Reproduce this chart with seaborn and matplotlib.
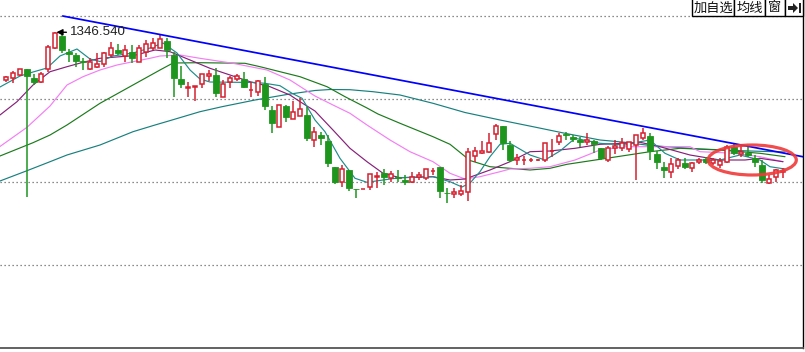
import numpy as np
import pandas as pd
import matplotlib
matplotlib.use("Agg")
import matplotlib.pyplot as plt
import seaborn as sns
from matplotlib.patches import Ellipse, Rectangle, Polygon

# 日K线数据 (开, 高, 低, 收)
opens = [1298.8, 1300.5, 1303.8, 1310.1, 1300.5, 1297.1, 1309.5, 1331.1, 1342.8, 1327.1,
         1323.8, 1317.8, 1309.8, 1311.5, 1314.5, 1323.8, 1328.8, 1323.1, 1327.1, 1317.1,
         1327.1, 1330.5, 1331.1, 1337.8, 1323.8, 1299.8, 1291.1, 1291.5, 1294.5, 1303.1,
         1303.8, 1282.1, 1296.5, 1299.5, 1299.8, 1288.8, 1287.1, 1294.5, 1268.8, 1252.1,
         1273.1, 1259.5, 1263.1, 1263.8, 1238.8, 1243.8, 1237.8, 1212.1, 1197.1, 1208.8,
         1189.6, 1189.4, 1192.1, 1202.1, 1205.5, 1201.1, 1202.1, 1198.5, 1197.1, 1202.1,
         1201.1, 1207.8, 1211.5, 1185.7, 1184.5, 1184.8, 1187.1, 1223.1, 1225.5, 1226.5,
         1244.5, 1252.8, 1233.8, 1218.8, 1218.5, 1218.5, 1218.5, 1218.8, 1227.8, 1236.5,
         1244.0, 1242.1, 1238.8, 1236.5, 1237.8, 1231.1, 1218.8, 1231.1, 1230.5, 1229.8,
         1233.8, 1241.1, 1242.8, 1224.5, 1211.8, 1206.5, 1213.1, 1215.5, 1210.5, 1216.8,
         1219.8, 1215.8, 1213.8, 1217.1, 1232.1, 1224.5, 1225.8, 1221.1, 1213.8, 1195.5,
         1202.1, 1207.1]
highs = [1303.1, 1308.1, 1310.3, 1310.1, 1304.8, 1307.1, 1333.8, 1346.54, 1345.3, 1329.8,
         1325.5, 1320.5, 1320.5, 1325.5, 1327.1, 1337.1, 1334.8, 1333.8, 1333.8, 1333.8,
         1338.8, 1340.5, 1343.8, 1340.5, 1327.1, 1313.1, 1296.5, 1292.5, 1304.5, 1308.8,
         1310.5, 1298.8, 1303.1, 1304.5, 1306.5, 1297.1, 1298.8, 1301.5, 1272.8, 1273.8,
         1273.8, 1277.8, 1280.5, 1272.1, 1252.1, 1246.5, 1243.8, 1212.1, 1213.8, 1208.8,
         1189.6, 1189.6, 1204.5, 1207.1, 1209.8, 1207.8, 1208.8, 1203.8, 1207.1, 1207.1,
         1209.8, 1211.1, 1211.5, 1190.5, 1190.5, 1193.8, 1231.1, 1231.8, 1237.8, 1245.5,
         1254.5, 1252.8, 1237.8, 1224.5, 1223.1, 1220.5, 1219.5, 1235.5, 1239.5, 1245.5,
         1246.5, 1243.8, 1242.1, 1245.5, 1238.8, 1231.1, 1233.1, 1238.8, 1240.5, 1237.1,
         1243.8, 1250.5, 1245.5, 1227.8, 1217.1, 1221.1, 1221.1, 1221.1, 1216.5, 1220.8,
         1221.8, 1220.8, 1220.8, 1233.8, 1235.8, 1232.8, 1232.1, 1223.8, 1218.8, 1203.8,
         1209.8, 1210.8]
lows = [1296.5, 1295.5, 1302.8, 1182.1, 1293.8, 1295.5, 1307.1, 1329.8, 1325.5, 1316.5,
        1312.1, 1308.8, 1308.8, 1310.5, 1312.1, 1322.1, 1323.8, 1317.1, 1315.5, 1316.5,
        1322.1, 1328.8, 1330.5, 1320.5, 1282.1, 1291.1, 1282.1, 1277.8, 1291.1, 1297.8,
        1282.1, 1282.1, 1291.1, 1297.8, 1291.1, 1282.1, 1283.1, 1268.8, 1245.5, 1252.1,
        1257.1, 1259.5, 1263.1, 1238.1, 1232.1, 1233.8, 1212.1, 1194.5, 1192.1, 1188.1,
        1180.5, 1189.4, 1188.8, 1191.1, 1193.8, 1197.1, 1197.1, 1193.8, 1195.5, 1198.8,
        1198.8, 1203.8, 1181.1, 1175.5, 1180.5, 1183.1, 1177.8, 1216.5, 1224.5, 1225.5,
        1238.8, 1228.8, 1216.5, 1213.8, 1213.8, 1216.8, 1217.5, 1216.5, 1222.1, 1233.8,
        1238.8, 1237.1, 1232.1, 1233.8, 1225.5, 1218.8, 1216.5, 1224.5, 1227.8, 1227.1,
        1198.8, 1238.8, 1218.8, 1209.8, 1201.1, 1201.1, 1209.8, 1209.8, 1206.5, 1214.8,
        1214.8, 1213.8, 1210.8, 1215.8, 1223.8, 1221.8, 1222.1, 1211.8, 1195.8, 1194.8,
        1196.8, 1200.8]
closes = [1301.5, 1306.1, 1309.5, 1302.8, 1296.5, 1304.8, 1332.1, 1345.8, 1328.8, 1324.5,
          1318.1, 1317.1, 1317.1, 1314.8, 1325.5, 1331.1, 1326.1, 1328.8, 1320.5, 1330.5,
          1334.8, 1335.5, 1339.8, 1328.8, 1301.1, 1294.8, 1291.3, 1292.5, 1304.5, 1304.5,
          1286.1, 1294.5, 1300.5, 1302.8, 1292.1, 1289.0, 1298.1, 1273.1, 1256.1, 1273.8,
          1262.1, 1266.5, 1269.5, 1241.1, 1247.1, 1240.5, 1215.5, 1197.1, 1209.8, 1191.1,
          1189.5, 1189.6, 1204.5, 1202.3, 1202.1, 1204.5, 1201.1, 1197.1, 1202.1, 1203.8,
          1209.8, 1208.0, 1188.1, 1185.5, 1187.1, 1188.1, 1226.5, 1227.8, 1227.8, 1235.5,
          1252.8, 1235.5, 1218.8, 1221.1, 1218.7, 1218.7, 1218.7, 1235.5, 1228.0, 1242.8,
          1243.8, 1239.8, 1237.1, 1238.8, 1234.5, 1221.1, 1231.1, 1233.1, 1235.5, 1236.5,
          1243.8, 1245.5, 1227.8, 1216.5, 1208.5, 1214.5, 1219.1, 1212.1, 1215.5, 1218.8,
          1216.8, 1218.8, 1217.8, 1232.1, 1225.5, 1227.1, 1223.8, 1217.1, 1198.8, 1199.8,
          1208.8, 1207.3]

# 均线 (按K线序号读点)
ma5_idx = [-0.86, 2.0, 3.86, 5.86, 7.71, 10.14, 12.0, 13.43, 15.29, 18.14, 20.57, 22.43, 24.43,
           26.29, 27.71, 29.14, 35.57, 37.0, 39.14, 40.86, 42.29, 44.14, 45.57, 47.71, 49.86,
           51.57, 53.86, 56.29, 61.0, 63.43, 65.14, 66.29, 67.71, 69.14, 70.57, 72.0, 74.86,
           77.0, 79.14, 81.29, 84.86, 88.43, 90.57, 92.0, 94.14, 96.29, 99.14, 102.0, 104.86,
           107.71, 109.14, 111.29]
ma5_val = [1291.8, 1302.8, 1306.8, 1310.8, 1322.8, 1329.8, 1319.8, 1317.3, 1322.8, 1325.8,
           1330.8, 1335.8, 1325.8, 1308.8, 1299.8, 1296.8, 1296.3, 1295.5, 1293.1, 1285.5,
           1280.5, 1258.8, 1247.1, 1220.5, 1200.5, 1196.5, 1198.8, 1201.1, 1202.1, 1197.1,
           1191.8, 1195.8, 1207.1, 1222.1, 1234.5, 1235.5, 1223.8, 1218.8, 1227.8, 1240.5,
           1235.5, 1233.8, 1237.1, 1238.8, 1225.5, 1218.8, 1218.8, 1218.8, 1223.8, 1218.8,
           1212.1, 1209.8]
ma10_idx = [-0.86, 1.57, 3.86, 6.29, 8.71, 11.0, 13.43, 18.14, 21.29, 23.43, 26.29, 29.14, 32.0,
            34.86, 37.71, 40.57, 42.0, 44.14, 46.71, 49.14, 51.57, 53.86, 56.29, 61.0, 63.43,
            65.57, 69.14, 72.0, 74.86, 77.71, 81.29, 84.86, 88.43, 90.57, 93.43, 97.71, 102.0,
            105.57, 107.71, 111.0]
ma10_val = [1263.8, 1277.1, 1293.8, 1307.1, 1312.1, 1316.5, 1320.5, 1323.1, 1328.8, 1327.1,
            1318.8, 1310.5, 1303.8, 1297.1, 1292.1, 1283.8, 1277.1, 1267.8, 1248.8, 1230.5,
            1217.1, 1205.5, 1201.1, 1202.1, 1198.8, 1199.8, 1208.8, 1217.1, 1227.1, 1227.8,
            1230.5, 1234.5, 1235.5, 1236.5, 1232.1, 1223.8, 1218.8, 1218.8, 1220.5, 1217.1]
ma20_idx = [-0.86, 3.0, 6.29, 8.71, 11.0, 13.43, 15.86, 18.14, 20.57, 22.0, 24.86, 27.71, 32.43,
            37.29, 40.57, 44.14, 46.71, 49.14, 51.57, 54.86, 57.71, 61.0, 63.43, 65.57, 67.71,
            70.57, 72.0, 74.86, 77.71, 81.29, 84.86, 88.43, 92.0, 97.71, 99.14, 104.14, 107.71,
            111.0]
ma20_val = [1232.3, 1251.5, 1272.8, 1293.8, 1302.1, 1308.8, 1313.8, 1317.1, 1320.5, 1322.8,
            1323.8, 1320.5, 1315.5, 1308.8, 1298.8, 1282.8, 1273.8, 1265.5, 1253.8, 1238.8,
            1227.1, 1217.1, 1205.5, 1199.8, 1202.1, 1207.1, 1209.8, 1210.5, 1212.1, 1218.8,
            1228.8, 1232.1, 1232.1, 1232.1, 1227.1, 1225.5, 1222.1, 1217.1]
ma60_idx = [-0.86, 3.86, 6.29, 8.71, 13.43, 18.14, 22.0, 23.86, 27.71, 34.14, 36.29, 39.14, 42.0,
            45.86, 48.43, 51.57, 53.14, 56.29, 61.0, 63.43, 66.29, 69.14, 72.0, 74.86, 77.71,
            80.14, 84.86, 88.43, 92.0, 96.29, 102.0, 107.71, 111.29]
ma60_val = [1222.8, 1236.1, 1243.8, 1253.8, 1275.5, 1293.8, 1308.8, 1315.8, 1316.1, 1315.5,
            1312.1, 1307.1, 1302.1, 1292.1, 1282.1, 1270.8, 1264.8, 1255.5, 1242.1, 1234.5,
            1218.3, 1212.1, 1210.5, 1208.8, 1210.5, 1214.5, 1219.5, 1223.3, 1227.1, 1230.5,
            1228.8, 1225.5, 1222.1]
ma120_idx = [-0.86, 3.0, 6.29, 8.71, 13.43, 18.14, 21.29, 23.0, 27.71, 30.86, 35.57, 40.29, 44.14,
             46.29, 49.14, 52.43, 56.29, 61.0, 65.57, 70.57, 75.29, 79.86, 84.86, 88.43, 92.0,
             99.14, 106.29, 111.29]
ma120_val = [1197.8, 1208.1, 1217.1, 1223.8, 1233.8, 1247.1, 1253.8, 1257.3, 1267.1, 1272.1,
             1278.8, 1284.5, 1288.3, 1289.3, 1289.1, 1287.1, 1283.8, 1275.5, 1266.3, 1258.8,
             1252.1, 1245.5, 1238.8, 1236.5, 1233.3, 1229.8, 1227.8, 1226.8]

# 压力线两端
trend_idx = [8.1, 113.9]
trend_val = [1362.8, 1222.0]
grid_levels = [1362.8, 1279.8, 1196.8, 1113.8]
buttons = ["加自选", "均线", "窗"]

sns.set_style("white")
plt.rcParams['font.family'] = ['Noto Sans CJK SC', 'DejaVu Sans']

fig = plt.figure(figsize=(8.05, 3.52), dpi=100)
ax = fig.add_axes([0, 4 / 352, 803 / 805, 348 / 352])

up_c = "#D42030"
dn_c = "#1E961E"
x = np.arange(len(opens))
o = np.array(opens); h = np.array(highs); l = np.array(lows); c = np.array(closes)
up = c >= o
top = np.maximum(o, c); bot = np.minimum(o, c)

for yv in grid_levels:
    ax.axhline(yv, color="#666666", lw=0.9, ls=(0, (1, 2.2)), zorder=0)

# 均线
lines = [(ma120_idx, ma120_val, "#17807F"), (ma60_idx, ma60_val, "#1C7A1C"),
         (ma20_idx, ma20_val, "#F47EF4"), (ma10_idx, ma10_val, "#86207A"),
         (ma5_idx, ma5_val, "#1E8C8C")]
for xi, yi, col in lines:
    df = pd.DataFrame({"i": xi, "v": yi})
    sns.lineplot(data=df, x="i", y="v", color=col, lw=0.85, ax=ax, zorder=2)

# K线
ax.vlines(x[~up], l[~up], h[~up], color=dn_c, lw=1.1, zorder=3)
ax.bar(x[~up], np.maximum(top[~up] - bot[~up], 0.6), bottom=bot[~up], width=0.72,
       color=dn_c, edgecolor=dn_c, lw=0.6, zorder=4)
ax.vlines(x[up], top[up], h[up], color=up_c, lw=1.1, zorder=3)
ax.vlines(x[up], l[up], bot[up], color=up_c, lw=1.1, zorder=3)
ax.bar(x[up], np.maximum(top[up] - bot[up], 0.3), bottom=bot[up], width=0.66,
       facecolor="white", edgecolor=up_c, lw=1.1, zorder=4)

sns.lineplot(x=trend_idx, y=trend_val, color="#0000FF", lw=1.25, ax=ax, zorder=5)

# 最高点标注
hi = int(np.argmax(h))
ax.annotate(f"{h[hi]:.3f}", xy=(hi + 0.2, h[hi]), xytext=(hi + 2.1, h[hi]),
            fontsize=9.6, family=["Liberation Sans", "DejaVu Sans"], color="#222222",
            ha="left", va="center",
            arrowprops=dict(arrowstyle="-|>", color="black", lw=1.0, mutation_scale=9,
                            shrinkA=0, shrinkB=0), zorder=6)

ax.add_patch(Ellipse((106.6, 1218.8), 12.6, 30, fill=False, edgecolor="#F03A3A",
                     lw=2.3, alpha=0.9, zorder=7))

ax.set_xlim(-6 / 7, 797 / 7)
ax.set_ylim(1030.8, 1378.8)
ax.set_xlabel("")
ax.set_ylabel("")
ax.set_yticks([])
ax.set_xticks([104.7])
ax.set_xticklabels([""])
ax.tick_params(axis="x", direction="out", length=4, width=0.8, color="#444444")
for s in ["left", "top"]:
    ax.spines[s].set_visible(False)
ax.spines["right"].set_color("black")
ax.spines["right"].set_linewidth(1.0)
ax.spines["bottom"].set_color("#555555")
ax.spines["bottom"].set_linewidth(1.3)

# 右上角按钮
W, H = 805.0, 352.0
edges = [692, 734, 765, 785, 803]
for k in range(4):
    x0, x1 = edges[k], edges[k + 1]
    fig.patches.append(Rectangle((x0 / W, 1 - 16 / H), (x1 - x0) / W, 16 / H + 0.01,
                                 transform=fig.transFigure, facecolor="white",
                                 edgecolor="black", lw=1.0, zorder=10))
    if k < 3:
        fig.text((x0 + x1) / 2 / W, 1 - 8 / H, buttons[k], ha="center", va="center",
                 fontsize=9.5, color="#111111", zorder=11)
arrow = [(788, 6), (793, 6), (793, 3), (798, 8), (793, 13), (793, 10), (788, 10)]
fig.patches.append(Polygon([(px / W, 1 - py / H) for px, py in arrow], closed=True,
                           transform=fig.transFigure, facecolor="#222222", edgecolor="none",
                           zorder=11))
fig.patches.append(Rectangle((798.5 / W, 1 - 13 / H), 2 / W, 10 / H, transform=fig.transFigure,
                             facecolor="#222222", edgecolor="none", zorder=11))

fig.savefig("out.png", dpi=100)
